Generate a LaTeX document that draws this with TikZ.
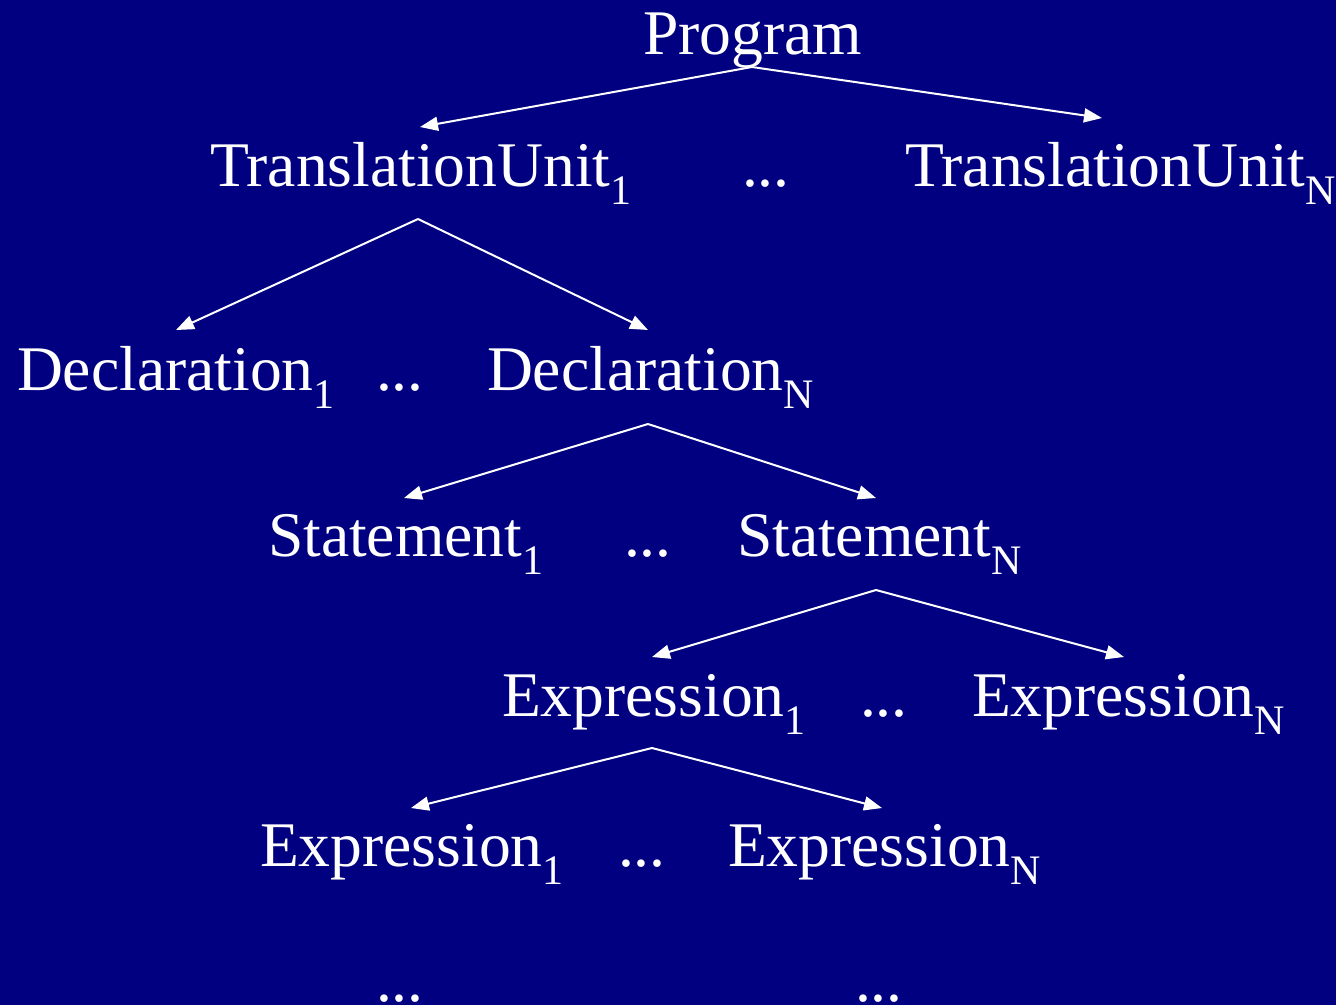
\documentclass[tikz,border=0pt]{standalone}
\usepackage{fontspec}
\setmainfont{Liberation Serif}
\usetikzlibrary{arrows.meta}
\definecolor{bgnavy}{HTML}{000080}
\newcommand\lsb[1]{\raisebox{-18pt}{\fontsize{42}{42}\selectfont #1}}
\tikzset{
  lbl/.style={text=white, inner sep=0pt, outer sep=0pt, anchor=base west, font=\fontsize{63.6}{70}\selectfont},
  arr/.style={draw=white, line width=2pt, -{Triangle[length=18pt,width=14pt]}}
}
\begin{document}
\begin{tikzpicture}[x=1pt,y=-1pt]
\fill[bgnavy] (0,0) rectangle (1336,1005);
\useasboundingbox (0,0) rectangle (1336,1005);
% level 0
\node[lbl] (prog) at (643,54) {Program};
% level 1
\node[lbl] (tu1) at (210,186) {TranslationUnit\lsb{1}};
\node[lbl] (tud) at (742,186) {...};
\node[lbl] (tun) at (905,186) {TranslationUnit\lsb{N}};
% level 2
\node[lbl] (de1) at (17,390) {Declaration\lsb{1}};
\node[lbl] (ded) at (376,390) {...};
\node[lbl] (den) at (487,390) {Declaration\lsb{N}};
% level 3
\node[lbl] (st1) at (268,556) {Statement\lsb{1}};
\node[lbl] (std) at (624,556) {...};
\node[lbl] (stn) at (737,556) {Statement\lsb{N}};
% level 4
\node[lbl] (ex1) at (502,716) {Expression\lsb{1}};
\node[lbl] (exd) at (860,716) {...};
\node[lbl] (exn) at (972,716) {Expression\lsb{N}};
% level 5
\node[lbl] (fx1) at (260,866) {Expression\lsb{1}};
\node[lbl] (fxd) at (618,866) {...};
\node[lbl] (fxn) at (728,866) {Expression\lsb{N}};
% level 6
\node[lbl] (gd1) at (376,1001) {...};
\node[lbl] (gd2) at (855,1001) {...};
% connector points
\coordinate (progS) at (752,67);
\coordinate (tu1N) at (420,127);
\coordinate (tunN) at (1102,118);
\coordinate (tu1S) at (418,219);
\coordinate (de1N) at (176,330);
\coordinate (denN) at (648,330);
\coordinate (denS) at (648,424);
\coordinate (st1N) at (404,498);
\coordinate (stnN) at (876,498);
\coordinate (stnS) at (876,590);
\coordinate (ex1N) at (652,657);
\coordinate (exnN) at (1124,657);
\coordinate (ex1S) at (652,748);
\coordinate (fx1N) at (411,808);
\coordinate (fxnN) at (882,808);
\draw[arr] (progS) -- (tu1N);
\draw[arr] (progS) -- (tunN);
\draw[arr] (tu1S) -- (de1N);
\draw[arr] (tu1S) -- (denN);
\draw[arr] (denS) -- (st1N);
\draw[arr] (denS) -- (stnN);
\draw[arr] (stnS) -- (ex1N);
\draw[arr] (stnS) -- (exnN);
\draw[arr] (ex1S) -- (fx1N);
\draw[arr] (ex1S) -- (fxnN);
\end{tikzpicture}
\end{document}
